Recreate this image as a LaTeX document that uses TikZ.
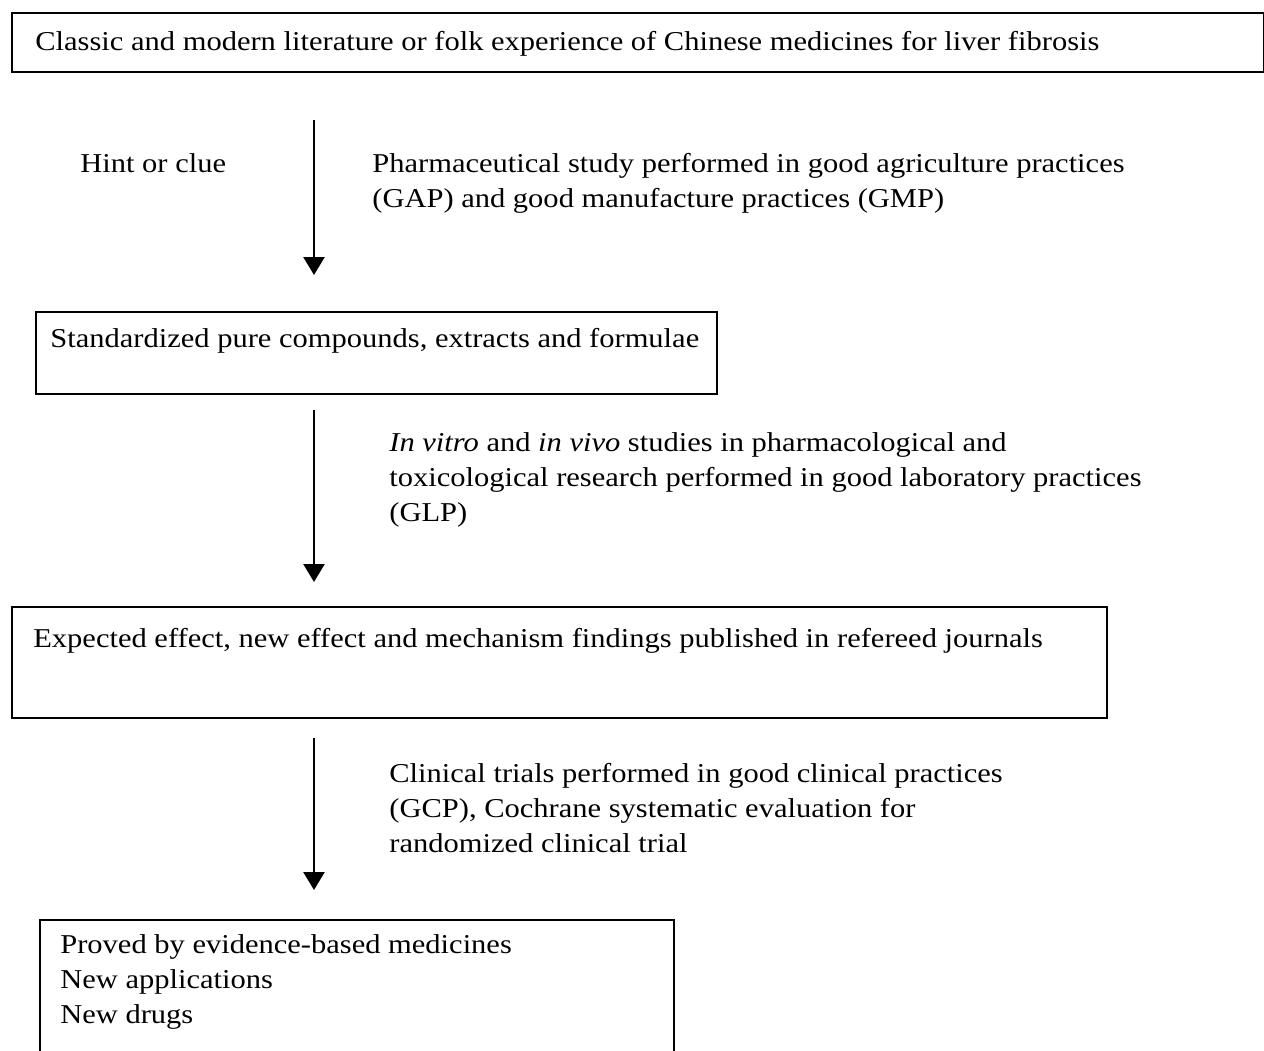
\documentclass[tikz,border=0pt]{standalone}
\usepackage{fontspec}
\setmainfont{Liberation Serif}[FakeStretch=1.12]
\usetikzlibrary{arrows.meta}

\begin{document}
\begin{tikzpicture}[
		box/.style={draw, line width=0.3mm, inner sep=0pt, anchor=north west},
		txt/.style={inner sep=0pt, anchor=base west, align=left, font=\fontsize{15.5pt}{19.9pt}\selectfont},
		flow/.style={line width=0.5mm, -{Triangle[width=0.42cm, length=0.36cm]}}
	]
			%%%%% START %%%%%
			
			\useasboundingbox (0, 0) rectangle (25.28, -21);
			\clip (0, 0) rectangle (25.28, -21);
			
			\node[box, minimum width=25.04cm, minimum height=1.18cm] (lit) at (0.22, -0.24) {};
			\node[txt] (littext) at (0.7, -1.0) {Classic and modern literature or folk experience of Chinese medicines for liver fibrosis};
			
			\coordinate (a1) at (6.28, -2.4);
			\coordinate (b1) at (6.28, -5.5);
			\draw[flow] (a1) -- (b1);
			\node[txt] (hint) at (1.6, -3.44) {Hint or clue};
			% base of a multi-line node is its last line
			\node[txt] (gap) at (7.44, -4.14) {Pharmaceutical study performed in good agriculture practices\\(GAP) and good manufacture practices (GMP)};
			
			\node[box, minimum width=13.62cm, minimum height=1.64cm] (std) at (0.7, -6.22) {};
			\node[txt] (stdtext) at (1.0, -6.94) {Standardized pure compounds, extracts and formulae};
			
			\coordinate (a2) at (6.28, -8.2);
			\coordinate (b2) at (6.28, -11.64);
			\draw[flow] (a2) -- (b2);
			\node[txt] (glp) at (7.78, -10.42) {\textit{In vitro} and \textit{in vivo} studies in pharmacological and\\toxicological research performed in good laboratory practices\\(GLP)};
			
			\node[box, minimum width=21.9cm, minimum height=2.22cm] (eff) at (0.22, -12.12) {};
			\node[txt] (efftext) at (0.66, -12.94) {Expected effect, new effect and mechanism findings published in refereed journals};
			
			\coordinate (a3) at (6.28, -14.76);
			\coordinate (b3) at (6.28, -17.8);
			\draw[flow] (a3) -- (b3);
			\node[txt] (gcp) at (7.78, -17.04) {Clinical trials performed in good clinical practices\\(GCP), Cochrane systematic evaluation for\\randomized clinical trial};
			
			\node[box, minimum width=12.68cm, minimum height=3.2cm] (ebm) at (0.78, -18.38) {};
			\node[txt] (ebmtext) at (1.2, -20.46) {Proved by evidence-based medicines\\New applications\\New drugs};
			
			%%%%% END %%%%%
\end{tikzpicture}
\end{document}
